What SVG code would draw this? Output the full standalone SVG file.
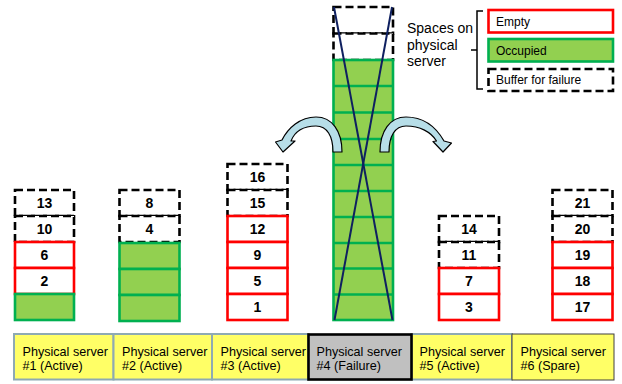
<svg xmlns="http://www.w3.org/2000/svg" width="622" height="384" viewBox="0 0 622 384">
<style>
.dash{fill:#fff;stroke:#000;stroke-width:2.6;stroke-dasharray:8 4}
.empty{fill:#fff;stroke:#ff0000;stroke-width:2.6}
.occ{fill:#92d050;stroke:#00b050;stroke-width:2.6}
.num{font-family:"Liberation Sans",Arial,sans-serif;font-weight:bold;font-size:14px;text-anchor:middle;fill:#000}
.lbl{font-family:"Liberation Sans",Arial,sans-serif;font-size:12.6px;fill:#000}
.leg{font-family:"Liberation Sans",Arial,sans-serif;font-size:12px;fill:#000}
.srv{fill:#ffff66;stroke:#8eaab3;stroke-width:2}
.arrow{fill:#b7dee8;stroke:#000;stroke-width:1.2;stroke-linejoin:round}
.cross{stroke:#0f2060;stroke-width:2;fill:none}
</style>

<g id="legend">
  <text class="lbl" style="font-size:14px" x="407" y="32.5">Spaces on</text>
  <text class="lbl" style="font-size:14px" x="407" y="49.5">physical</text>
  <text class="lbl" style="font-size:14px" x="407" y="66">server</text>
  <path d="M483,11 L477,11 L477,89 L483,89 M477,50 L471,50" fill="none" stroke="#000" stroke-width="1.5"/>
  <rect class="empty" x="488.5" y="10" width="124.5" height="22.5"/>
  <text class="leg" x="496" y="25.5">Empty</text>
  <rect class="occ" x="488.5" y="39" width="124.5" height="22.5"/>
  <text class="leg" x="496" y="54.5">Occupied</text>
  <rect class="dash" x="488.5" y="69" width="124.5" height="22"/>
  <text class="leg" x="496" y="83.5">Buffer for failure</text>
</g>

<g id="server1">
  <rect class="dash" x="15" y="190" width="59" height="26"/>
  <rect class="dash" x="15" y="216" width="59" height="26"/>
  <rect class="empty" x="15" y="242" width="59" height="26"/>
  <rect class="empty" x="15" y="268" width="59" height="26"/>
  <rect class="occ" x="15" y="294" width="59" height="26"/>
  <text class="num" x="44.5" y="208">13</text>
  <text class="num" x="44.5" y="234">10</text>
  <text class="num" x="44.5" y="260">6</text>
  <text class="num" x="44.5" y="286">2</text>
</g>

<g id="server2">
  <rect class="dash" x="119.5" y="190" width="60" height="26"/>
  <rect class="dash" x="119.5" y="216" width="60" height="26"/>
  <rect class="occ" x="119.5" y="243" width="60" height="26"/>
  <rect class="occ" x="119.5" y="269" width="60" height="26"/>
  <rect class="occ" x="119.5" y="295" width="60" height="26"/>
  <text class="num" x="149.5" y="208">8</text>
  <text class="num" x="149.5" y="234">4</text>
</g>

<g id="server3">
  <rect class="dash" x="227.5" y="164" width="60" height="26"/>
  <rect class="dash" x="227.5" y="190" width="60" height="26"/>
  <rect class="empty" x="227.5" y="216" width="60" height="26"/>
  <rect class="empty" x="227.5" y="242" width="60" height="26"/>
  <rect class="empty" x="227.5" y="268" width="60" height="26"/>
  <rect class="empty" x="227.5" y="294" width="60" height="26"/>
  <text class="num" x="257.5" y="182">16</text>
  <text class="num" x="257.5" y="208">15</text>
  <text class="num" x="257.5" y="234">12</text>
  <text class="num" x="257.5" y="260">9</text>
  <text class="num" x="257.5" y="286">5</text>
  <text class="num" x="257.5" y="312">1</text>
</g>

<g id="server4">
  <rect class="dash" x="333.5" y="7" width="59.5" height="26.5"/>
  <rect class="dash" x="333.5" y="33.5" width="59.5" height="26.5"/>
  <rect class="occ" x="333.5" y="60" width="59.5" height="260"/>
  <path d="M333.5,86 H393 M333.5,112.5 H393 M333.5,139 H393 M333.5,165 H393 M333.5,191 H393 M333.5,217 H393 M333.5,243 H393 M333.5,268.5 H393 M333.5,294.5 H393" stroke="#00b050" stroke-width="2.6" fill="none"/>
  <line class="cross" x1="334" y1="7" x2="392.5" y2="320"/>
  <line class="cross" x1="392" y1="7" x2="334.5" y2="320"/>
</g>

<g id="server5">
  <rect class="dash" x="439" y="216" width="60" height="26"/>
  <rect class="dash" x="439" y="242" width="60" height="26"/>
  <rect class="empty" x="439" y="268" width="60" height="26"/>
  <rect class="empty" x="439" y="294" width="60" height="26"/>
  <text class="num" x="469" y="234">14</text>
  <text class="num" x="469" y="260">11</text>
  <text class="num" x="469" y="286">7</text>
  <text class="num" x="469" y="312">3</text>
</g>

<g id="server6">
  <rect class="dash" x="552.5" y="190" width="60" height="26"/>
  <rect class="dash" x="552.5" y="216" width="60" height="26"/>
  <rect class="empty" x="552.5" y="242" width="60" height="26"/>
  <rect class="empty" x="552.5" y="268" width="60" height="26"/>
  <rect class="empty" x="552.5" y="294" width="60" height="26"/>
  <text class="num" x="582.5" y="208">21</text>
  <text class="num" x="582.5" y="234">20</text>
  <text class="num" x="582.5" y="260">19</text>
  <text class="num" x="582.5" y="286">18</text>
  <text class="num" x="582.5" y="312">17</text>
</g>

<g id="connectors">
  <path class="arrow" d="M333,152 L342,152 C342,131 332,117 316,117 C300,117 288,128 282,140 L275.5,142 L283,152 L295,141 L291,141 C295,131 304,126 316,126 C327,126 333,136 333,152 Z"/>
  <path class="arrow" d="M389,152 L380,152 C380,131 390,117 406,117 C423,117 436,127 444,141 L451.5,143 L443,152 L433,141.5 L436.5,141 C431,132 420,126 406,126 C395,126 389,136 389,152 Z"/>
</g>

<g id="bar1">
  <rect class="srv" x="14" y="334" width="99.5" height="45.5"/>
  <text class="lbl" x="22.5" y="355.5">Physical server</text>
  <text class="lbl" x="22.5" y="369.5">#1 (Active)</text>
</g>
<g id="bar2">
  <rect class="srv" x="113.5" y="334" width="98.5" height="45.5"/>
  <text class="lbl" x="122" y="355.5">Physical server</text>
  <text class="lbl" x="122" y="369.5">#2 (Active)</text>
</g>
<g id="bar3">
  <rect class="srv" x="212" y="334" width="96.5" height="45.5"/>
  <text class="lbl" x="220.5" y="355.5">Physical server</text>
  <text class="lbl" x="220.5" y="369.5">#3 (Active)</text>
</g>
<g id="bar5">
  <rect class="srv" x="411.5" y="334" width="100.5" height="45.5"/>
  <text class="lbl" x="419.5" y="355.5">Physical server</text>
  <text class="lbl" x="419.5" y="369.5">#5 (Active)</text>
</g>
<g id="bar4">
  <rect x="308.5" y="334.5" width="103" height="45" fill="#c0c0c0" stroke="#000" stroke-width="2.6"/>
  <text class="lbl" x="316.5" y="355.5">Physical server</text>
  <text class="lbl" x="316.5" y="369.5">#4 (Failure)</text>
</g>
<g id="bar6">
  <rect x="512" y="334" width="102" height="46" fill="#ffff66" stroke="#404040" stroke-width="1"/>
  <text class="lbl" x="520.5" y="355.5">Physical server</text>
  <text class="lbl" x="520.5" y="369.5">#6 (Spare)</text>
</g>
</svg>
